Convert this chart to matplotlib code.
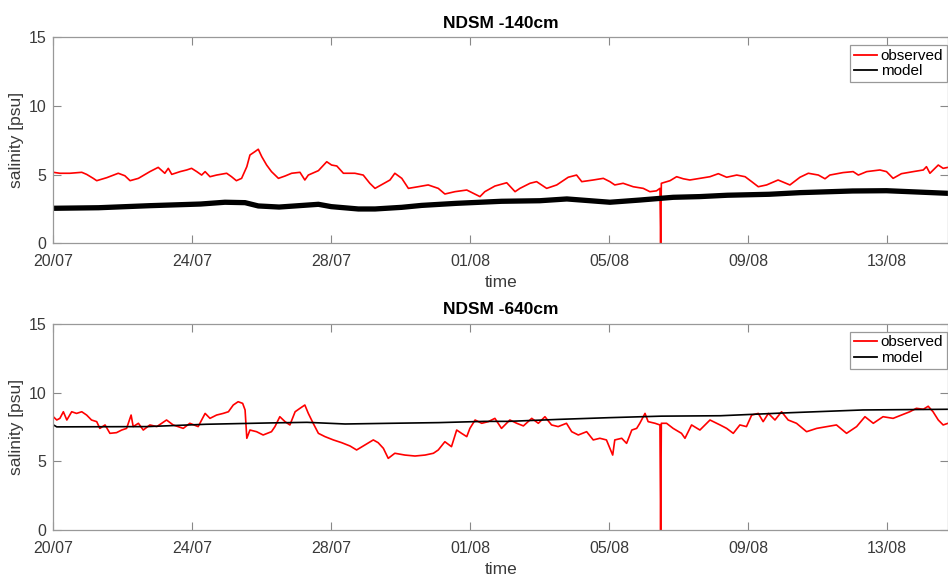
import numpy as np
import pandas as pd
import matplotlib
matplotlib.use('Agg')
from matplotlib import pyplot as plt
import matplotlib.dates as mdates

# days since 20/07, salinity in psu
t_obs_140 = [0.00, 0.19, 0.48, 0.82, 0.96, 1.15, 1.25, 1.54, 1.87, 2.06, 2.21, 2.45, 2.78, 3.02,
             3.21, 3.31, 3.41, 3.65, 3.84, 3.98, 4.13, 4.27, 4.37, 4.51, 4.70, 4.99, 5.13, 5.27,
             5.42, 5.57, 5.66, 5.80, 5.90, 6.00, 6.14, 6.28, 6.48, 6.67, 6.86, 7.10, 7.24, 7.34,
             7.63, 7.87, 8.01, 8.16, 8.35, 8.68, 8.92, 9.11, 9.26, 9.55, 9.69, 9.83, 10.03, 10.22,
             10.50, 10.79, 11.08, 11.27, 11.56, 11.90, 12.09, 12.28, 12.42, 12.71, 13.05, 13.29,
             13.43, 13.72, 13.91, 14.20, 14.49, 14.82, 15.06, 15.21, 15.54, 15.83, 16.02, 16.16,
             16.40, 16.69, 16.98, 17.17, 17.36, 17.46, 17.48, 17.50, 17.75, 17.94, 18.13, 18.32,
             18.61, 18.90, 19.14, 19.38, 19.67, 19.91, 20.10, 20.29, 20.53, 20.86, 21.20, 21.49,
             21.73, 22.02, 22.21, 22.35, 22.73, 23.02, 23.17, 23.41, 23.79, 23.98, 24.17, 24.41,
             24.75, 25.04, 25.13, 25.23, 25.47, 25.61, 25.75]
sal_obs_140 = [5.17, 5.10, 5.10, 5.17, 5.02, 4.73, 4.56, 4.78, 5.10, 4.92, 4.56, 4.73, 5.22, 5.53,
               5.10, 5.46, 5.02, 5.22, 5.34, 5.46, 5.22, 4.97, 5.22, 4.85, 4.97, 5.10, 4.85, 4.56,
               4.73, 5.58, 6.43, 6.67, 6.85, 6.31, 5.70, 5.22, 4.73, 4.90, 5.10, 5.17, 4.61, 4.97,
               5.29, 5.94, 5.70, 5.63, 5.10, 5.10, 4.97, 4.37, 4.00, 4.41, 4.61, 5.10, 4.73, 4.00,
               4.12, 4.25, 4.00, 3.59, 3.76, 3.88, 3.64, 3.40, 3.76, 4.17, 4.41, 3.76,
               4.00, 4.37, 4.49, 4.00, 4.25, 4.81, 4.97, 4.49, 4.61, 4.73, 4.49, 4.25,
               4.37, 4.12, 4.00, 3.76, 3.82, 4.00, 0.00, 4.37, 4.56, 4.85, 4.70, 4.61,
               4.73, 4.85, 5.07, 4.81, 4.97, 4.85, 4.49, 4.12, 4.25, 4.61, 4.25, 4.81,
               5.10, 4.97, 4.70, 4.97, 5.15, 5.22, 4.97, 5.22, 5.34, 5.22, 4.73, 5.07,
               5.22, 5.34, 5.58, 5.10, 5.70, 5.46, 5.53]

t_mod_140 = [0.0, 1.3, 2.78, 4.24, 4.94, 5.52, 5.9, 6.5, 7.63, 8.0, 8.78, 9.26, 10.03, 10.6,
             11.6, 12.9, 14.0, 14.78, 16.02, 16.88, 17.84, 18.6, 19.4, 20.6, 21.5, 23.0, 23.98,
             25.1, 25.75]
sal_mod_140 = [2.55, 2.59, 2.74, 2.86, 2.99, 2.96, 2.72, 2.64, 2.84, 2.67, 2.50, 2.50, 2.62, 2.76,
               2.91, 3.06, 3.10, 3.23, 2.99, 3.15, 3.35, 3.40, 3.50, 3.57, 3.69, 3.81, 3.83,
               3.71, 3.64]

t_obs_640 = [0.00, 0.10, 0.19, 0.29, 0.39, 0.53, 0.67, 0.82, 0.96, 1.10, 1.25, 1.34, 1.49, 1.63,
             1.82, 1.97, 2.11, 2.24, 2.30, 2.45, 2.59, 2.78, 2.98, 3.26, 3.45, 3.74, 3.93, 4.17,
             4.37, 4.51, 4.70, 4.89, 5.04, 5.18, 5.32, 5.45, 5.52, 5.57, 5.66, 5.85, 6.04, 6.28,
             6.38, 6.52, 6.67, 6.81, 6.96, 7.10, 7.24, 7.34, 7.48, 7.63, 7.82, 8.06, 8.30, 8.54,
             8.73, 8.92, 9.21, 9.35, 9.50, 9.64, 9.83, 10.12, 10.41, 10.70, 10.94, 11.08, 11.27,
             11.46, 11.61, 11.75, 11.90, 11.99, 12.14, 12.33, 12.52, 12.71, 12.90, 13.14, 13.34,
             13.53, 13.77, 13.96, 14.15, 14.34, 14.53, 14.77, 14.92, 15.11, 15.35, 15.54, 15.73,
             15.92, 16.10, 16.16, 16.36, 16.50, 16.65, 16.79, 16.88, 17.03, 17.12, 17.32, 17.46,
             17.48, 17.50, 17.65, 17.84, 18.08, 18.18, 18.37, 18.61, 18.90, 19.19, 19.38, 19.57,
             19.76, 19.95, 20.10, 20.29, 20.43, 20.58, 20.77, 20.96, 21.15, 21.39, 21.68, 21.97,
             22.26, 22.54, 22.83, 23.12, 23.36, 23.60, 23.88, 24.17, 24.41, 24.65, 24.84, 25.04,
             25.18, 25.32, 25.47, 25.61, 25.75]
sal_obs_640 = [8.24, 8.00, 8.12, 8.60, 8.00, 8.60, 8.48, 8.60, 8.36, 8.00, 7.88, 7.39, 7.64, 7.03,
               7.08, 7.27, 7.39, 8.36, 7.52, 7.76, 7.27, 7.64, 7.52, 8.00, 7.64, 7.39, 7.76, 7.52,
               8.48, 8.12, 8.36, 8.48, 8.60, 9.09, 9.33, 9.21, 8.73, 6.67, 7.27, 7.15, 6.91, 7.15,
               7.52, 8.24, 7.88, 7.64, 8.60, 8.85, 9.09, 8.48, 7.76, 7.03, 6.79, 6.55, 6.35, 6.11,
               5.82, 6.11, 6.55, 6.35, 5.94, 5.21, 5.58, 5.45, 5.38, 5.45, 5.58, 5.82, 6.42,
               6.06, 7.27, 7.03, 6.79, 7.39, 8.00, 7.76, 7.88, 8.12, 7.39, 8.00, 7.76,
               7.57, 8.12, 7.76, 8.24, 7.64, 7.52, 7.76, 7.15, 6.91, 7.15, 6.55, 6.67,
               6.55, 5.45, 6.55, 6.67, 6.30, 7.27, 7.39, 7.76, 8.48, 7.88, 7.76, 7.64,
               0.00, 7.76, 7.76, 7.39, 7.03, 6.67, 7.64, 7.27, 8.00, 7.64, 7.39, 7.03,
               7.64, 7.52, 8.36, 8.48, 7.88, 8.48, 8.00, 8.60, 8.00, 7.76, 7.15, 7.39,
               7.52, 7.64, 7.03, 7.52, 8.24, 7.76, 8.24, 8.12, 8.36, 8.60, 8.85, 8.78,
               9.00, 8.60, 8.00, 7.64, 7.76]

t_mod_640 = [0.0, 0.1, 2.7, 4.4, 6.3, 7.3, 8.4, 9.7, 11.1, 12.4, 13.1, 14.6, 16.0, 17.5, 19.2,
             21.2, 23.3, 25.75]
sal_mod_640 = [7.65, 7.50, 7.52, 7.69, 7.79, 7.83, 7.71, 7.76, 7.81, 7.90, 7.90, 8.05, 8.17, 8.28,
               8.31, 8.53, 8.73, 8.78]

titles = ['NDSM -140cm', 'NDSM -640cm']

start = pd.Timestamp('2015-07-20')


def to_dates(days):
	return start + pd.to_timedelta(np.array(days), unit='D')


def draw(ax, t_obs, s_obs, t_mod, s_mod, title, model_lw):
	ax.plot(to_dates(t_obs), s_obs, color='red', lw=1.2, label='observed')
	ax.plot(to_dates(t_mod), s_mod, color='black', lw=model_lw, label='model')
	ax.set_xlim(start, start + pd.Timedelta(days=25.75))
	ax.set_ylim(0, 15)
	ax.set_yticks([0, 5, 10, 15])
	ax.xaxis.set_major_locator(mdates.DayLocator(bymonthday=[1, 5, 9, 13, 20, 24, 28]))
	ax.xaxis.set_major_formatter(mdates.DateFormatter('%d/%m'))
	ax.tick_params(direction='in', length=6, width=0.8, top=True, right=True,
				   labelsize=11.5, colors='#888888', labelcolor='#3a3a3a')
	ax.tick_params(axis='x', pad=8)
	ax.tick_params(axis='y', pad=5)
	for sp in ax.spines.values():
		sp.set_color('#999999')
		sp.set_linewidth(0.9)
	ax.set_title(title, fontsize=12.5, fontweight='bold', pad=7)
	ax.set_xlabel('time', fontsize=12.5, color='#3a3a3a', labelpad=4)
	ax.set_ylabel('salinity [psu]', fontsize=12.5, color='#3a3a3a', labelpad=3)
	leg = ax.legend(loc='upper right', bbox_to_anchor=(0.999, 0.962), fontsize=11,
					fancybox=False, framealpha=1, edgecolor='#999999', handlelength=1.5,
					handletextpad=0.25, borderaxespad=0, borderpad=0.25, labelspacing=0.1)
	leg.get_frame().set_linewidth(0.9)
	for line in leg.get_lines():
		line.set_linewidth(1.3)


def main():
	plt.rcParams['font.family'] = ['Liberation Sans', 'DejaVu Sans']
	fig = plt.figure(figsize=(9.48, 5.76), dpi=100)
	ax1 = fig.add_axes([0.0562, 0.5776, 0.9438, 0.3576])
	ax2 = fig.add_axes([0.0562, 0.0799, 0.9438, 0.358])
	draw(ax1, t_obs_140, sal_obs_140, t_mod_140, sal_mod_140, titles[0], 3.8)
	draw(ax2, t_obs_640, sal_obs_640, t_mod_640, sal_mod_640, titles[1], 1.2)
	fig.savefig('out.png', dpi=100)
	plt.close(fig)


if __name__ == '__main__':
	main()
